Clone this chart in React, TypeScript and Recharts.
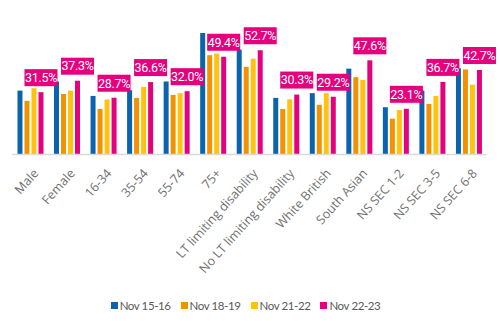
import React from 'react';
import { BarChart, Bar, XAxis, YAxis, Legend, LabelList } from 'recharts';

const categories = ['Male', 'Female', '16-34', '35-54', '55-74', '75+', 'LT limiting disability', 'No LT limiting disability', 'White British', 'South Asian', 'NS SEC 1-2', 'NS SEC 3-5', 'NS SEC 6-8'];
const nov1516 = [32.3, 36.9, 29.6, 32.5, 36.9, 61.4, 53.0, 28.6, 31.0, 43.4, 23.9, 32.3, 43.6];
const nov1819 = [27.1, 30.6, 23.0, 28.6, 30.1, 50.2, 44.3, 23.0, 25.1, 39.1, 18.1, 25.6, 43.0];
const nov2122 = [33.5, 32.3, 27.8, 34.2, 31.0, 51.0, 48.4, 27.9, 31.0, 37.7, 22.5, 29.6, 35.3];
const nov2223 = [31.5, 37.3, 28.7, 36.6, 32.0, 49.4, 52.7, 30.3, 29.2, 47.6, 23.1, 36.7, 42.7];

const seriesNames = ['Nov 15-16', 'Nov 18-19', 'Nov 21-22', 'Nov 22-23'];
const colors = ['#0a64ad', '#f39200', '#ffc20e', '#e5007d'];

const data = categories.map((c, i) => ({
  name: c,
  s0: nov1516[i],
  s1: nov1819[i],
  s2: nov2122[i],
  s3: nov2223[i],
}));

const PinkLabel = (props: any) => {
  const { x, y, width, value } = props;
  const cx = x + width / 2;
  const w = 33;
  const h = 17;
  const top = y - 6 - h;
  return (
    <g>
      <rect x={cx - w / 2} y={top} width={w} height={h} fill="#e5007d" />
      <text x={cx} y={top + h / 2 + 4.3} textAnchor="middle" fill="#ffffff" fontSize={12.5} fontFamily="Roboto" letterSpacing={-0.3}>
        {value.toFixed(1)}%
      </text>
    </g>
  );
};

const Tick = (props: any) => {
  const { x, y, payload } = props;
  return (
    <g transform={`translate(${x + 3},${y + 6})`}>
      <text x={0} y={0} dy={8} textAnchor="end" transform="rotate(-48)" fill="#707070" fontSize={12.5} fontFamily="Open Sans">
        {payload.value}
      </text>
    </g>
  );
};

const LegendContent = (props: any) => {
  const { payload } = props;
  return (
    <div style={{ display: 'flex', justifyContent: 'center', fontFamily: 'Lato', fontSize: 11.5, letterSpacing: -0.4, color: '#595959' }}>
      {payload.map((p: any, i: number) => (
        <div key={i} style={{ display: 'flex', alignItems: 'center', marginRight: 10 }}>
          <svg width={7} height={7} style={{ marginRight: 2 }}>
            <rect x={0} y={0} width={7} height={7} fill={p.color} />
          </svg>
          <span>{p.value}</span>
        </div>
      ))}
    </div>
  );
};

export default function App() {
  return (
    <div style={{ position: 'absolute', left: 0, top: 0, background: '#fff' }}>
      <BarChart
        width={500}
        height={321}
        data={data}
        margin={{ top: 16, right: 13, left: 12, bottom: 0 }}
        barCategoryGap="15%"
        barGap={2}
      >
        <XAxis
          dataKey="name"
          interval={0}
          tickLine={false}
          axisLine={{ stroke: '#d9d9d9', strokeWidth: 1.5 }}
          tick={<Tick />}
          height={124.5}
        />
        <YAxis hide domain={[0, 70]} />
        <Legend
          verticalAlign="bottom"
          content={<LegendContent />}
          wrapperStyle={{ height: 42, paddingTop: 20, paddingLeft: 2, boxSizing: 'border-box' }}
        />
        {['s0', 's1', 's2', 's3'].map((k, i) => (
          <Bar key={k} dataKey={k} name={seriesNames[i]} fill={colors[i]} isAnimationActive={false}>
            {i === 3 ? <LabelList dataKey={k} content={<PinkLabel />} /> : null}
          </Bar>
        ))}
      </BarChart>
    </div>
  );
}
